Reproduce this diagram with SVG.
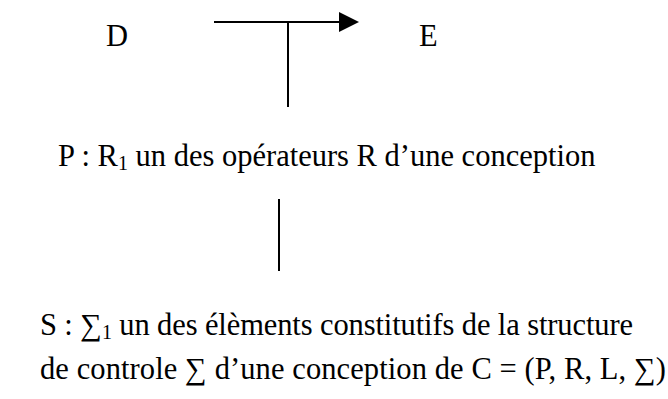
<svg xmlns="http://www.w3.org/2000/svg" width="668" height="399" viewBox="0 0 668 399">
<style>
text{font-family:"Liberation Serif","Times New Roman",serif;font-size:30.5px;fill:#000}
.sub{font-size:20px}
.ln{stroke:#000;stroke-width:2;fill:none}
</style>
<rect width="668" height="399" fill="#fff"/>
<g id="connectors">
<line class="ln" x1="214" y1="22" x2="340" y2="22"/>
<path d="M339,12 L359,22 L339,32 z" fill="#000"/>
<line class="ln" x1="288" y1="22" x2="288" y2="107"/>
<line class="ln" x1="279" y1="199" x2="279" y2="271"/>
</g>
<g id="node-D"><text x="106" y="46">D</text></g>
<g id="node-E"><text x="419" y="46">E</text></g>
<g id="node-P"><text x="58" y="166">P : R<tspan class="sub" dy="4">1</tspan><tspan dy="-4"> un des opérateurs R d’une conception</tspan></text></g>
<g id="node-S"><text x="40" y="335" textLength="593" lengthAdjust="spacing">S : ∑<tspan class="sub" dy="4">1</tspan><tspan dy="-4"> un des élèments constitutifs de la structure</tspan></text>
<text x="40" y="379" textLength="626" lengthAdjust="spacing">de controle ∑ d’une conception de C = (P, R, L, ∑)</text></g>
</svg>
